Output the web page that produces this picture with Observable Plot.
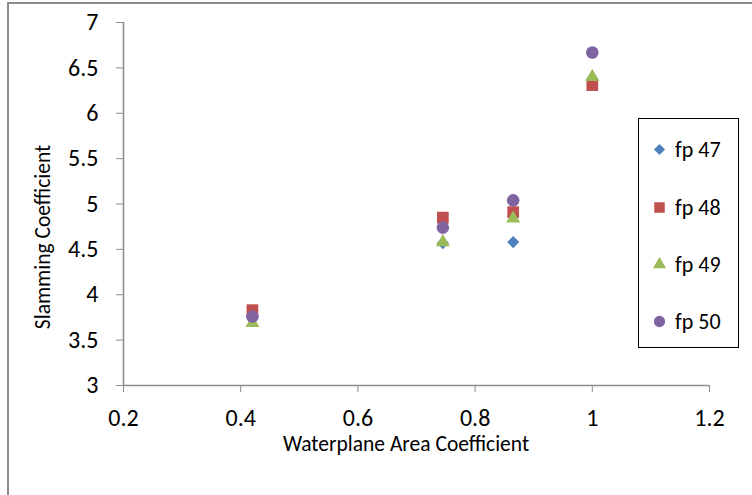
<!DOCTYPE html>
<html>
<head>
<meta charset="utf-8">
<script src="https://cdn.jsdelivr.net/npm/d3@7"></script>
<script src="https://cdn.jsdelivr.net/npm/@observablehq/plot@0.6"></script>
<style>
  body { margin: 0; background: #fff; }
  #wrap { position: relative; width: 752px; height: 495px; font-family: Carlito, Lato, "Open Sans", sans-serif; }
  .frameTop { position: absolute; left: 8px; top: 2px; width: 744px; height: 0; border-top: 2px solid #8c8c8c; }
  .frameLeft { position: absolute; left: 7px; top: 2px; width: 0; height: 493px; border-left: 2px solid #8c8c8c; }
  .ylab { position: absolute; left: 43px; top: 237px; transform: translate(-50%, -50%) rotate(-90deg); font-size: 21.5px; white-space: nowrap; color: #000; }
  .xlab { position: absolute; left: 406px; top: 444px; transform: translate(-50%, -50%); font-size: 21.5px; white-space: nowrap; color: #000; }
  #legend { position: absolute; left: 638px; top: 118px; width: 99px; height: 228px; border: 1.5px solid #000; background: #fff; }
  .item { position: absolute; left: 0; height: 24px; display: flex; align-items: center; font-size: 22px; color: #000; }
  .item svg { margin-left: 13px; margin-right: 8px; }
</style>
</head>
<body>
<div id="wrap"></div>
<script>
const xValues = [0.42, 0.745, 0.865, 1.0];
const fp47 = [3.75, 4.57, 4.58, 6.38];
const fp48 = [3.83, 4.85, 4.91, 6.31];
const fp49 = [3.69, 4.58, 4.84, 6.40];
const fp50 = [3.76, 4.74, 5.04, 6.67];
const seriesNames = ["fp 47", "fp 48", "fp 49", "fp 50"];
const seriesColors = ["#4F81BD", "#C0504D", "#9BBB59", "#8064A2"];
const seriesSymbols = ["diamond2", "square", "triangle", "circle"];
const seriesR = [5.5, 6.6, 5.2, 6.3];
const xTicks = [0.2, 0.4, 0.6, 0.8, 1, 1.2];
const yTicks = [3, 3.5, 4, 4.5, 5, 5.5, 6, 6.5, 7];
const xTitle = "Waterplane Area Coefficient";
const yTitle = "Slamming Coefficient";

const seriesValues = [fp47, fp48, fp49, fp50];
const rows = seriesNames.map((s, i) => xValues.map((x, j) => ({series: s, x, y: seriesValues[i][j]})));

const dotMarks = seriesNames.map((s, i) =>
  Plot.dot(rows[i], {x: "x", y: "y", fill: seriesColors[i], symbol: () => seriesSymbols[i], r: seriesR[i], stroke: "none"})
);

const chart = Plot.plot({
  width: 752,
  height: 495,
  marginLeft: 123,
  marginRight: 43,
  marginTop: 22,
  marginBottom: 110,
  style: {fontFamily: "Carlito, Lato, 'Open Sans', sans-serif", background: "transparent", color: "#000"},
  x: {domain: [0.2, 1.2]},
  y: {domain: [3, 7]},
  symbol: {type: "identity"},
  marks: [
    Plot.axisX(xTicks, {tickSize: 7, tickPadding: 16, fontSize: 24, stroke: "#8c8c8c", fill: "#000", label: null, tickFormat: d => String(d)}),
    Plot.axisY(yTicks, {tickSize: 7, tickPadding: 18, fontSize: 24, stroke: "#8c8c8c", fill: "#000", label: null, tickFormat: d => String(d)}),
    Plot.ruleY([3], {stroke: "#8c8c8c", strokeWidth: 1.5}),
    Plot.ruleX([0.2], {stroke: "#8c8c8c", strokeWidth: 1.5}),
    ...dotMarks
  ]
});

const wrap = document.getElementById("wrap");
chart.style.position = "absolute";
chart.style.left = "0px";
chart.style.top = "0px";
wrap.appendChild(chart);

const ft = document.createElement("div"); ft.className = "frameTop"; wrap.appendChild(ft);
const fl = document.createElement("div"); fl.className = "frameLeft"; wrap.appendChild(fl);

const yl = document.createElement("div"); yl.className = "ylab"; yl.textContent = yTitle; wrap.appendChild(yl);
const xl = document.createElement("div"); xl.className = "xlab"; xl.textContent = xTitle; wrap.appendChild(xl);

const legend = document.createElement("div");
legend.id = "legend";
const legendTops = [18, 76, 133, 190];
seriesNames.forEach((s, i) => {
  const item = document.createElement("div");
  item.className = "item";
  item.style.top = legendTops[i] + "px";
  const ns = "http://www.w3.org/2000/svg";
  const svg = document.createElementNS(ns, "svg");
  svg.setAttribute("width", 15);
  svg.setAttribute("height", 15);
  const p = document.createElementNS(ns, "path");
  const sym = {diamond2: d3.symbolDiamond2, square: d3.symbolSquare, triangle: d3.symbolTriangle, circle: d3.symbolCircle}[seriesSymbols[i]];
  const sizes = {diamond2: 80, square: 110, triangle: 75, circle: 100};
  p.setAttribute("d", d3.symbol(sym, sizes[seriesSymbols[i]])());
  p.setAttribute("transform", "translate(7.5,7.5)");
  p.setAttribute("fill", seriesColors[i]);
  svg.appendChild(p);
  item.appendChild(svg);
  const t = document.createElement("span");
  t.textContent = s;
  item.appendChild(t);
  legend.appendChild(item);
});
wrap.appendChild(legend);
</script>
</body>
</html>
